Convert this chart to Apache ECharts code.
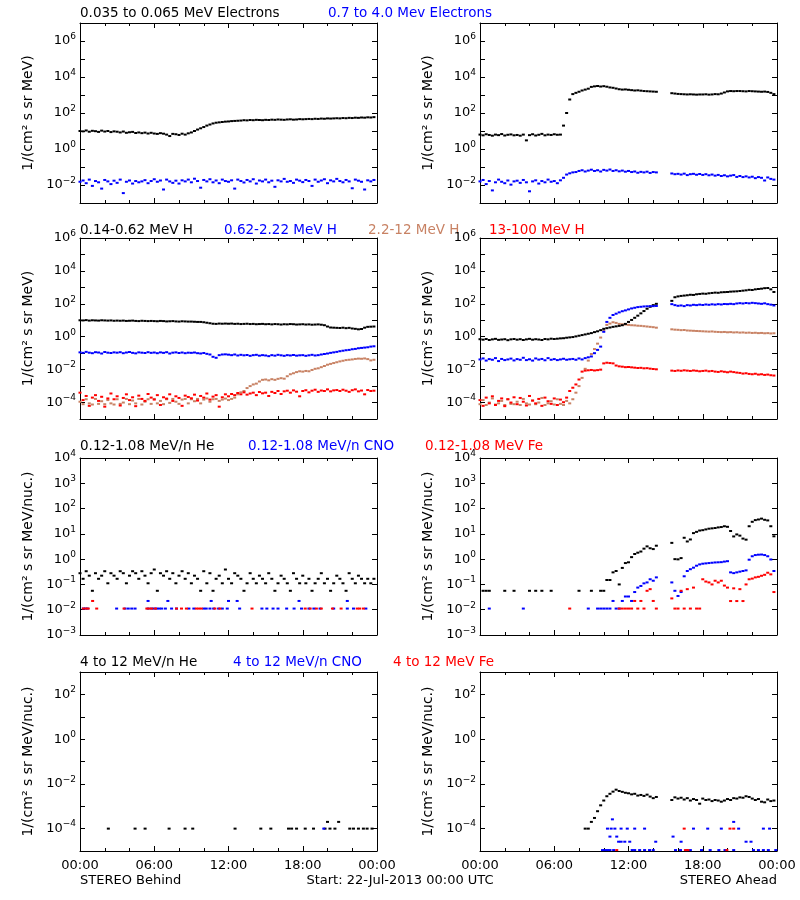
<!DOCTYPE html>
<html><head><meta charset="utf-8">
<script src="https://cdn.jsdelivr.net/npm/echarts/dist/echarts.min.js"></script>
<style>html,body{margin:0;padding:0;background:#fff}#c{width:800px;height:900px}</style>
</head><body><div id="c"></div>
<script>
// ---------------- DATA (15-minute samples from 00:00, log10 values unless noted) ----------------
const STEP_HOURS = 0.25;
const xTickHours = [0, 6, 12, 18, 24];
const xTickLabels = ['00:00', '06:00', '12:00', '18:00', '00:00'];

// Row 1: electrons
const behindElecLoLog = [
 1.00,0.98,1.03,0.96,1.01,0.99,0.95,1.02,0.97,1.00,0.94,0.98,
 0.96,0.92,0.97,0.90,0.93,0.95,0.89,0.92,0.88,0.91,0.86,0.90,
 0.86,0.84,0.88,0.85,0.80,0.72,0.84,0.82,0.78,0.85,0.80,0.87,
 0.92,1.00,1.08,1.15,1.22,1.30,1.36,1.42,1.46,1.48,1.50,1.52,
 1.53,1.55,1.56,1.57,1.58,1.60,1.59,1.61,1.60,1.62,1.61,1.60,
 1.62,1.61,1.63,1.62,1.64,1.63,1.62,1.64,1.65,1.63,1.64,1.66,
 1.65,1.66,1.67,1.66,1.68,1.67,1.69,1.68,1.70,1.69,1.70,1.71,
 1.70,1.72,1.71,1.73,1.72,1.74,1.73,1.75,1.74,1.76,1.75,1.77];
const behindElecHiLog = [
 -1.82,-1.75,-1.90,-1.70,-2.05,-1.78,-1.85,-2.20,-1.72,-1.80,-1.95,-1.76,
 -1.88,-1.70,-2.45,-1.82,-1.75,-1.92,-1.78,-1.85,-1.80,-1.73,-1.90,-1.78,
 -1.68,-1.82,-1.75,-2.25,-1.70,-1.80,-1.88,-1.76,-1.92,-1.74,-1.80,-1.70,
 -1.85,-1.65,-1.78,-2.15,-1.72,-1.80,-1.68,-1.85,-1.75,-1.90,-1.70,-1.78,
 -1.82,-1.74,-2.20,-1.70,-1.78,-1.86,-1.72,-1.80,-1.68,-1.92,-1.75,-1.80,
 -1.70,-1.85,-1.76,-2.10,-1.74,-1.80,-1.66,-1.82,-1.78,-1.88,-1.70,-1.76,
 -1.84,-1.72,-1.78,-2.05,-1.70,-1.82,-1.75,-1.68,-1.90,-1.74,-1.80,-1.66,
 -1.78,-1.85,-1.72,-1.80,-2.18,-1.70,-1.76,-1.82,-2.25,-1.74,-1.80,-1.72];
const aheadElecLoLog = [
 0.80,0.76,0.82,0.78,0.74,0.80,0.77,0.83,0.75,0.79,0.81,0.76,
 0.78,0.74,0.80,0.48,0.77,0.82,0.75,0.79,0.84,0.76,0.80,0.78,
 0.82,0.79,0.80,1.30,2.00,2.75,3.05,3.12,3.18,3.25,3.30,3.35,
 3.45,3.48,3.50,3.47,3.49,3.46,3.42,3.40,3.36,3.32,3.30,3.31,
 3.29,3.27,3.25,3.26,3.24,3.22,3.21,3.20,3.19,3.18,null,null,
 null,null,3.10,3.08,3.06,3.05,3.04,3.03,3.04,3.03,3.02,3.03,
 3.03,3.04,3.02,3.03,3.05,3.04,3.08,3.14,3.20,3.22,3.21,3.22,
 3.22,3.21,3.20,3.22,3.21,3.20,3.19,3.18,3.19,3.17,3.12,3.05];
const aheadElecHiLog = [
 -1.80,-1.72,-1.95,-1.78,-2.30,-1.85,-1.70,-1.82,-1.90,-1.75,-1.98,-1.80,
 -1.76,-1.88,-1.72,-1.85,-2.35,-1.80,-1.74,-1.92,-1.78,-1.85,-1.70,-1.82,
 -1.78,-1.90,-1.74,-1.60,-1.42,-1.35,-1.30,-1.28,-1.22,-1.18,-1.25,-1.20,
 -1.15,-1.22,-1.18,-1.25,-1.16,-1.20,-1.14,-1.22,-1.18,-1.24,-1.20,-1.26,
 -1.22,-1.28,-1.25,-1.32,-1.27,-1.30,-1.26,-1.33,-1.28,-1.30,null,null,
 null,null,-1.36,-1.40,-1.38,-1.42,-1.37,-1.45,-1.40,-1.38,-1.43,-1.39,
 -1.44,-1.40,-1.46,-1.42,-1.48,-1.44,-1.50,-1.46,-1.52,-1.48,-1.45,-1.55,
 -1.50,-1.56,-1.52,-1.58,-1.54,-1.62,-1.56,-1.60,-1.75,-1.58,-1.66,-1.70];

// Row 2: protons
const behindH1Log = [
 1.00,0.99,1.01,0.98,1.00,0.99,0.98,1.00,0.99,0.98,0.99,0.97,
 0.98,0.97,0.98,0.96,0.97,0.98,0.96,0.95,0.97,0.96,0.95,0.96,
 0.95,0.94,0.96,0.95,0.93,0.94,0.95,0.93,0.92,0.94,0.93,0.92,
 0.92,0.91,0.90,0.90,0.88,0.85,0.82,0.79,0.78,0.80,0.79,0.80,
 0.79,0.80,0.78,0.79,0.77,0.78,0.79,0.77,0.78,0.76,0.77,0.78,
 0.76,0.77,0.75,0.77,0.76,0.74,0.76,0.75,0.77,0.76,0.74,0.75,
 0.76,0.74,0.75,0.73,0.74,0.75,0.73,0.70,0.62,0.56,0.55,0.54,
 0.53,0.55,0.52,0.54,0.50,0.48,0.45,0.47,0.55,0.60,0.61,0.62];
const behindH2Log = [
 -0.95,-0.98,-0.92,-0.97,-1.00,-0.94,-0.96,-1.02,-0.93,-0.97,-0.99,-0.95,
 -0.97,-0.94,-1.00,-0.96,-0.93,-0.98,-1.01,-0.95,-0.97,-0.99,-0.94,-0.98,
 -0.96,-1.00,-0.95,-0.98,-0.94,-1.02,-0.97,-0.95,-0.99,-0.96,-1.00,-0.97,
 -0.98,-0.96,-1.00,-1.02,-0.99,-1.04,-1.08,-1.22,-1.28,-1.12,-1.08,-1.07,
 -1.09,-1.12,-1.08,-1.14,-1.10,-1.13,-1.11,-1.16,-1.12,-1.10,-1.15,-1.12,
 -1.14,-1.18,-1.12,-1.15,-1.10,-1.13,-1.16,-1.12,-1.14,-1.11,-1.15,-1.13,
 -1.12,-1.16,-1.13,-1.10,-1.14,-1.12,-1.08,-1.05,-1.02,-0.98,-0.95,-0.92,
 -0.88,-0.85,-0.82,-0.80,-0.76,-0.74,-0.70,-0.68,-0.66,-0.64,-0.60,-0.58];
const behindH3Log = [
 -3.95,-4.10,-3.80,-4.05,-4.12,-3.78,-4.08,-3.92,-4.10,-3.85,-4.05,-4.12,
 -3.80,-4.08,-4.00,-3.78,-4.10,-3.88,-4.05,-3.78,-4.12,-3.95,-3.80,-4.08,
 -3.78,-4.05,-3.90,-4.10,-3.80,-4.02,-3.78,-3.95,-4.08,-3.82,-3.78,-4.05,
 -3.80,-3.92,-3.78,-4.05,-3.82,-3.75,-3.95,-3.80,-3.78,-3.90,-3.82,-3.76,
 -3.85,-3.78,-3.70,-3.50,-3.38,-3.30,-3.12,-3.00,-2.90,-2.85,-2.72,-2.62,
 -2.60,-2.65,-2.58,-2.62,-2.56,-2.52,-2.55,-2.40,-2.28,-2.22,-2.15,-2.10,
 -2.12,-2.08,-2.10,-2.02,-1.95,-1.92,-1.85,-1.78,-1.70,-1.65,-1.60,-1.55,
 -1.50,-1.46,-1.42,-1.40,-1.38,-1.35,-1.33,-1.34,-1.32,-1.36,-1.44,-1.40];
const behindH4Log = [
 -3.40,-3.85,-3.60,-4.20,-3.70,-3.55,-3.90,-3.65,-4.25,-3.75,-3.45,-3.80,
 -3.62,-4.18,-3.72,-3.50,-3.85,-3.68,-4.22,-3.58,-3.78,-3.90,-3.48,-3.70,
 -3.82,-3.55,-4.15,-3.68,-3.76,-3.50,-3.90,-3.62,-3.72,-4.20,-3.58,-3.66,
 -3.74,-3.52,-3.88,-3.60,-3.70,-3.45,-3.82,-3.64,-3.55,-4.25,-3.68,-3.50,
 -3.62,-3.48,-3.55,-3.42,-3.50,-3.38,-3.52,-3.45,-3.40,-3.55,-3.36,-3.44,
 -3.40,-3.60,-3.35,-3.42,-3.30,-3.48,-3.32,-3.28,-3.40,-3.26,-3.34,-3.62,
 -3.30,-3.25,-3.38,-3.28,-3.22,-3.35,-3.27,-3.30,-3.20,-3.32,-3.26,-3.24,
 -3.30,-3.22,-3.28,-3.35,-3.25,-3.20,-3.32,-3.27,-3.50,-3.24,-3.30,-3.28];
const aheadH1Log = [
 -0.15,-0.18,-0.14,-0.20,-0.16,-0.13,-0.19,-0.17,-0.15,-0.21,-0.16,-0.14,
 -0.18,-0.15,-0.20,-0.16,-0.13,-0.18,-0.15,-0.17,-0.20,-0.14,-0.16,-0.12,
 -0.14,-0.12,-0.10,-0.09,-0.06,-0.04,-0.02,0.02,0.06,0.10,0.14,0.18,
 0.22,0.28,0.33,0.40,0.48,0.52,0.56,0.60,0.63,0.66,0.70,0.78,
 0.90,1.02,1.15,1.28,1.42,1.56,1.70,1.82,1.92,2.00,null,null,
 null,null,2.18,2.40,2.45,2.48,2.50,2.52,2.55,2.54,2.58,2.60,
 2.62,2.61,2.64,2.66,2.68,2.67,2.70,2.71,2.72,2.74,2.75,2.76,
 2.78,2.80,2.82,2.85,2.84,2.88,2.90,2.92,2.95,2.96,2.88,2.72];
const aheadH2Log = [
 -1.38,-1.32,-1.45,-1.36,-1.40,-1.30,-1.48,-1.35,-1.42,-1.38,-1.33,-1.44,
 -1.36,-1.40,-1.28,-1.42,-1.37,-1.45,-1.32,-1.39,-1.35,-1.43,-1.30,-1.40,
 -1.36,-1.42,-1.38,-1.34,-1.40,-1.37,-1.35,-1.40,-1.32,-1.38,-1.30,-1.25,
 -1.20,-1.00,-0.80,-0.60,0.30,0.90,1.15,1.32,1.40,1.48,1.55,1.60,
 1.66,1.72,1.76,1.80,1.82,1.84,1.85,1.86,1.86,1.87,null,null,
 null,null,1.98,1.92,1.88,1.90,1.86,1.92,1.90,1.94,1.92,1.95,
 1.93,1.96,1.94,1.97,1.95,1.98,1.96,1.99,1.98,2.00,1.98,2.02,
 2.04,2.02,2.05,2.03,2.06,2.04,2.02,2.00,2.03,1.98,1.95,1.90];
const aheadH3Log = [
 -4.10,-3.85,-4.15,-4.00,-3.75,-4.12,-4.05,-3.90,-4.15,-3.80,-4.08,-4.10,
 -3.95,-4.15,-3.78,-4.05,-4.12,-3.88,-4.10,-4.00,-3.72,-4.15,-4.05,-3.92,
 -4.12,-3.80,-4.08,-4.15,-3.90,-4.05,-3.80,-3.40,-3.00,-2.50,-1.95,-1.45,
 -1.05,-0.75,-0.42,-0.05,0.38,0.72,0.80,0.88,0.84,0.78,0.76,0.74,
 0.72,0.70,0.69,0.67,0.66,0.64,0.62,0.60,0.58,0.55,null,null,
 null,null,0.45,0.43,0.42,0.40,0.41,0.38,0.37,0.36,0.35,0.34,
 0.33,0.32,0.31,0.32,0.30,0.29,0.28,0.29,0.27,0.28,0.26,0.27,
 0.25,0.26,0.24,0.25,0.23,0.24,0.22,0.23,0.21,0.22,0.20,0.21];
const aheadH4Log = [
 -3.85,-4.20,-3.70,-4.05,-3.62,-4.15,-3.90,-3.75,-4.22,-3.80,-4.00,-3.68,
 -4.10,-3.72,-3.95,-4.18,-3.60,-3.88,-4.05,-3.78,-4.20,-3.70,-3.92,-4.08,
 -3.75,-4.15,-3.82,-3.98,-3.70,-3.30,-3.10,-2.90,-2.60,-2.12,-2.06,-2.04,
 -2.02,-2.05,-2.03,-2.00,-1.62,-1.58,-1.60,-1.62,-1.75,-1.80,-1.82,-1.85,
 -1.84,-1.86,-1.88,-1.90,-1.89,-1.92,-1.91,-1.94,-1.96,-1.98,null,null,
 null,null,-2.06,-2.08,-2.05,-2.07,-2.04,-2.06,-2.08,-2.05,-2.07,-2.10,
 -2.08,-2.06,-2.10,-2.08,-2.12,-2.14,-2.10,-2.13,-2.16,-2.12,-2.15,-2.18,
 -2.20,-2.24,-2.22,-2.26,-2.28,-2.25,-2.30,-2.28,-2.32,-2.30,-2.34,-2.36];

// Row 3: 0.12-1.08 MeV/n heavy ions (linear values, 15-minute samples)
const behindHeLoVals = [
 0.278,0.167,0.333,0.222,0.056,0.278,0.167,0.222,0.333,0.111,0.278,0.222,
 0.167,0.333,0.278,0.111,0.222,0.333,0.278,0.167,0.333,0.222,0.111,0.278,
 0.389,0.056,0.278,0.222,0.333,0.167,0.278,0.111,0.222,0.333,0.167,0.278,
 0.111,0.222,0.167,0.056,0.333,0.111,0.278,0.056,0.167,0.222,0.111,0.389,
 0.167,0.111,0.278,0.222,0.167,0.056,0.111,0.278,0.167,0.111,0.222,0.167,
 0.111,0.278,0.167,0.056,0.111,0.222,0.167,0.111,0.056,0.278,0.167,0.111,
 0.222,0.111,0.167,0.056,0.111,0.167,0.278,0.111,0.167,0.056,0.111,0.222,
 0.167,0.111,0.056,0.278,0.167,0.111,0.222,0.167,0.111,0.167,0.111,0.167];
const behindCnoLoPts = [
 [0.27,0.0111],[0.43,0.0111],[0.6,0.0111],[2.96,0.0111],[3.64,0.0111],[3.9,0.0111],[4.18,0.0111],[4.45,0.0111],
 [5.5,0.0111],[5.8,0.0111],[6.0,0.0111],[6.2,0.0111],[6.4,0.0111],[6.6,0.0111],[6.9,0.0111],[7.4,0.0111],
 [7.8,0.0111],[8.8,0.0111],[9.2,0.0111],[10.0,0.0111],[10.2,0.0111],[10.5,0.0111],[10.8,0.0111],[11.2,0.0111],
 [11.5,0.0111],[11.9,0.0111],[12.9,0.0111],[14.7,0.0111],[15.1,0.0111],[15.6,0.0111],[16.0,0.0111],[16.7,0.0111],
 [17.3,0.0111],[17.9,0.0111],[18.5,0.0111],[18.9,0.0111],[19.4,0.0111],[20.5,0.0111],[21.6,0.0111],[22.1,0.0111],
 [23.1,0.0111],[5.5,0.0222],[7.1,0.0222],[10.6,0.0222],[12.0,0.0222],[12.7,0.0222],[17.7,0.0222],[21.6,0.0222]];
const behindFeLoPts = [
 [0.27,0.0111],[0.49,0.0111],[0.67,0.0111],[1.02,0.0222],[1.35,0.0111],[3.56,0.0111],[5.4,0.0111],[5.6,0.0111],
 [5.8,0.0111],[6.1,0.0111],[7.8,0.0111],[8.2,0.0111],[8.6,0.0111],[9.4,0.0111],[9.6,0.0111],[9.8,0.0111],
 [10.9,0.0111],[11.3,0.0111],[13.9,0.0111],[18.2,0.0111],[18.6,0.0111],[19.1,0.0111],[19.5,0.0111],[20.4,0.0111],
 [21.1,0.0111],[22.4,0.0111],[22.6,0.0111],[22.9,0.0111]];
const aheadHeLoVals = [
 null,0.056,0.056,0.056,null,null,null,null,0.056,null,null,0.056,
 null,null,null,null,0.056,null,0.056,null,0.056,null,null,0.056,
 null,null,null,null,null,null,null,null,0.056,null,null,null,
 0.056,null,null,0.056,0.056,0.15,0.15,0.30,0.34,0.10,0.45,0.70,
 0.75,1.2,1.6,1.8,2.0,2.6,3.2,2.7,2.5,3.4,null,null,
 null,null,4.4,1.0,0.98,1.1,7.0,5.0,6.0,10.7,12,13.5,
 14,15,16,16.5,17,18,18.6,20,19,13,7.9,9.5,
 8.5,6.5,5.9,20,30,35,37,40,36,34,20,8.0];
const aheadCnoLoVals = [
 null,null,null,0.0111,null,null,null,null,null,null,null,null,
 null,null,0.0111,null,null,null,null,null,null,null,null,null,
 null,null,null,null,null,null,null,null,null,null,null,0.0111,
 null,null,0.0111,0.0111,0.0111,0.0111,0.0111,0.0222,0.0111,0.0111,0.0222,0.0333,
 0.0333,0.0222,0.05,0.075,0.087,0.11,0.12,0.16,0.14,0.19,null,null,
 null,null,0.12,0.056,0.035,0.05,0.21,0.34,0.40,0.46,0.55,0.62,
 0.66,0.68,0.70,0.72,0.74,0.75,0.76,0.80,0.83,0.30,0.28,0.30,
 0.32,0.34,0.36,0.95,1.3,1.45,1.5,1.52,1.45,1.3,0.97,0.34];
const aheadFeLoVals = [
 null,null,null,null,null,null,null,null,null,null,null,null,
 null,null,null,null,null,null,null,null,null,null,null,null,
 null,null,null,null,null,0.0111,null,null,null,null,null,null,
 null,null,null,null,null,null,null,null,null,0.0111,0.0111,0.0111,
 0.0111,0.0111,0.0222,0.0111,0.0222,0.0111,0.056,0.065,0.0222,0.0111,null,null,
 null,null,0.028,0.0111,0.0111,0.056,0.0111,0.065,0.0111,0.075,0.0111,0.0111,
 0.16,0.13,0.12,0.10,0.14,0.12,0.14,0.09,0.075,0.022,0.07,0.022,
 0.065,0.022,0.10,0.16,0.17,0.19,0.20,0.22,0.24,0.29,0.25,0.05];

// Row 4: 4-12 MeV/n heavy ions
const behindHeHiPts = [
 [2.29,1e-4],[4.45,1e-4],[5.26,1e-4],[7.2,1e-4],[8.49,1e-4],[9.11,1e-4],[12.53,1e-4],[14.61,1e-4],
 [15.42,1e-4],[16.85,1e-4],[17.1,1e-4],[17.5,1e-4],[18.2,1e-4],[18.87,1e-4],[19.8,1e-4],[20.0,2e-4],
 [20.2,1e-4],[20.6,1e-4],[20.9,2e-4],[21.8,1e-4],[22.1,1e-4],[22.5,1e-4],[22.9,1e-4],[23.2,1e-4],[23.6,1e-4]];
const behindCnoHiPts = [[19.7,1e-4]];
const behindFeHiPts = [];
const aheadHeHiVals = [
 null,null,null,null,null,null,null,null,null,null,null,null,
 null,null,null,null,null,null,null,null,null,null,null,null,
 null,null,null,null,null,null,null,null,null,null,1e-4,1e-4,
 2e-4,3e-4,6e-4,1.1e-3,1.8e-3,2.8e-3,3.6e-3,4.5e-3,5.5e-3,4.8e-3,4.4e-3,4.0e-3,
 3.8e-3,3.4e-3,3.6e-3,3.0e-3,3.2e-3,2.9e-3,3.3e-3,2.7e-3,2.3e-3,2.6e-3,null,null,
 null,null,1.9e-3,2.5e-3,2.2e-3,2.4e-3,2.0e-3,2.3e-3,1.8e-3,2.1e-3,1.9e-3,1.3e-3,
 2.2e-3,1.9e-3,2.0e-3,1.7e-3,1.9e-3,1.8e-3,1.6e-3,1.8e-3,2.1e-3,1.9e-3,2.3e-3,2.2e-3,
 2.5e-3,2.4e-3,2.8e-3,2.6e-3,2.2e-3,1.9e-3,2.1e-3,1.6e-3,1.5e-3,2.0e-3,1.7e-3,1.8e-3];
const aheadCnoHiPts = [
 [10.3,1e-4],[10.6,1e-4],[10.9,1e-4],[11.4,1e-4],[11.9,1e-4],[12.5,1e-4],[13.3,1e-4],[17.25,1e-4],
 [18.4,1e-4],[19.5,1e-4],[20.9,1e-4],[22.9,1e-4],[23.4,1e-4],[10.7,2.6e-4],[20.5,2e-4],
 [10.5,4.4e-5],[11.05,4.4e-5],[15.6,4.4e-5],
 [11.2,2.6e-5],[11.4,2.6e-5],[11.7,2.6e-5],[12.1,2.6e-5],[14.2,2.6e-5],[16.25,2.6e-5],[21.5,2.6e-5],[21.9,2.6e-5],
 [9.9,1.1e-5],[10.1,1.1e-5],[10.3,1.1e-5],[10.5,1.1e-5],[10.8,1.1e-5],[12.3,1.1e-5],[12.5,1.1e-5],[12.9,1.1e-5],
 [13.3,1.1e-5],[13.7,1.1e-5],[14.0,1.1e-5],[15.8,1.1e-5],[16.2,1.1e-5],[16.7,1.1e-5],[17.0,1.1e-5],[17.9,1.1e-5],
 [18.6,1.1e-5],[19.3,1.1e-5],[19.8,1.1e-5],[20.5,1.1e-5],[22.1,1.1e-5],[22.5,1.1e-5],[22.9,1.1e-5],[23.3,1.1e-5],[23.9,1.1e-5]];
const aheadFeHiPts = [
 [16.5,1e-4],[20.2,1e-4],[20.5,1e-4],[11.05,1.1e-5],[16.6,1.1e-5],[16.8,1.1e-5],[19.95,1.1e-5]];

// ---------------- BUILD ----------------
function fromLog(arr){ const o=[]; arr.forEach((v,i)=>{ if(v!==null) o.push([i*STEP_HOURS, Math.pow(10,v)]); }); return o; }
function fromLin(arr){ const o=[]; arr.forEach((v,i)=>{ if(v!==null) o.push([i*STEP_HOURS, v]); }); return o; }

const COL = {k:'#000000', b:'#0000ff', r:'#ff0000', o:'rgb(200,130,100)'};
const FONT = 'DejaVu Sans';
const NAME1 = '1/(cm² s sr MeV)';
const NAME2 = '1/(cm² s sr MeV/nuc.)';

const rows = [
  {top:23, height:180, min:-3, max:7, every:2, name:NAME1},
  {top:238, height:181, min:-5, max:6, every:2, name:NAME1},
  {top:458, height:177, min:-3, max:4, every:1, name:NAME2},
  {top:672, height:179, min:-5, max:3, every:2, name:NAME2}
];
const cols = [80, 480];
const panelSeries = [
  [[fromLog(behindElecLoLog),'k'],[fromLog(behindElecHiLog),'b']],
  [[fromLog(aheadElecLoLog),'k'],[fromLog(aheadElecHiLog),'b']],
  [[fromLog(behindH3Log),'o'],[fromLog(behindH4Log),'r'],[fromLog(behindH1Log),'k'],[fromLog(behindH2Log),'b']],
  [[fromLog(aheadH3Log),'o'],[fromLog(aheadH4Log),'r'],[fromLog(aheadH1Log),'k'],[fromLog(aheadH2Log),'b']],
  [[fromLin(behindHeLoVals),'k'],[behindCnoLoPts,'b'],[behindFeLoPts,'r']],
  [[fromLin(aheadHeLoVals),'k'],[fromLin(aheadCnoLoVals),'b'],[fromLin(aheadFeLoVals),'r']],
  [[behindHeHiPts,'k'],[behindCnoHiPts,'b'],[behindFeHiPts,'r']],
  [[fromLin(aheadHeHiVals),'k'],[aheadCnoHiPts,'b'],[aheadFeHiPts,'r']]
];

const grid=[], xAxis=[], yAxis=[], series=[];
let p=0;
rows.forEach((row, ri)=>{
  cols.forEach((left, ci)=>{
    grid.push({left:left, top:row.top, width:297, height:row.height, show:false});
    const lastRow = ri===rows.length-1;
    const xBase = {type:'value', gridIndex:p, min:0, max:24, interval:6,
      axisLine:{show:true, onZero:false, lineStyle:{color:'#000', width:1}},
      axisTick:{show:true, inside:true, length:5, lineStyle:{color:'#000'}},
      minorTick:{show:true, splitNumber:3, length:3, lineStyle:{color:'#000'}},
      splitLine:{show:false}, minorSplitLine:{show:false}};
    xAxis.push(Object.assign({}, xBase, {position:'bottom',
      axisLabel:{show:lastRow, margin:8, color:'#000', fontFamily:FONT, fontSize:13,
        showMinLabel:true, showMaxLabel:true,
        formatter:(v)=>{ const k=xTickHours.indexOf(Math.round(v)); return k>=0?xTickLabels[k]:''; }}}));
    xAxis.push(Object.assign({}, xBase, {position:'top', axisLabel:{show:false}}));
    const every=row.every;
    const yBase = {type:'log', logBase:10, gridIndex:p, min:Math.pow(10,row.min), max:Math.pow(10,row.max), interval:1,
      axisLine:{show:true, onZero:false, lineStyle:{color:'#000', width:1}},
      axisTick:{show:true, inside:true, length:5, lineStyle:{color:'#000'}},
      minorTick:{show:false}, splitLine:{show:false}, minorSplitLine:{show:false}};
    yAxis.push(Object.assign({}, yBase, {position:'left',
      name:row.name, nameLocation:'middle', nameGap:45, nameRotate:90,
      nameTextStyle:{color:'#000', fontFamily:FONT, fontSize:14},
      axisLabel:{show:true, margin:4, color:'#000', fontFamily:FONT,
        showMinLabel:true, showMaxLabel:true,
        formatter:(v)=>{ const e=Math.round(Math.log10(v)); if(((e%every)+every)%every!==0) return '';
          return '{b|10}{e|'+(e<0?'\u2212'+(-e):e)+'}'; },
        rich:{ b:{fontSize:13, fontFamily:FONT, color:'#000', lineHeight:18},
               e:{fontSize:9, fontFamily:FONT, color:'#000', lineHeight:9, verticalAlign:'top'} }}}));
    yAxis.push(Object.assign({}, yBase, {position:'right', axisLabel:{show:false}}));
    panelSeries[p].forEach(([data,c])=>{
      series.push({type:'scatter', xAxisIndex:2*p, yAxisIndex:2*p, data:data, symbol:'rect', symbolSize:[3,2],
        itemStyle:{color:COL[c], opacity:1}, silent:true, animation:false});
    });
    p++;
  });
});

const titles = [
 ['0.035 to 0.065 MeV Electrons',80,13,'k'],['0.7 to 4.0 Mev Electrons',328,13,'b'],
 ['0.14-0.62 MeV H',80,230,'k'],['0.62-2.22 MeV H',224,230,'b'],['2.2-12 MeV H',368,230,'o'],['13-100 MeV H',489,230,'r'],
 ['0.12-1.08 MeV/n He',80,446,'k'],['0.12-1.08 MeV/n CNO',248,446,'b'],['0.12-1.08 MeV Fe',425,446,'r'],
 ['4 to 12 MeV/n He',80,662,'k'],['4 to 12 MeV/n CNO',233,662,'b'],['4 to 12 MeV Fe',393,662,'r']
];
const TFONT = '13.5px "'+FONT+'"';
const graphic = titles.map(([t,x,y,c])=>({type:'text', style:{text:t, x:x, y:y, fill:COL[c],
  font:TFONT, align:'left', verticalAlign:'middle'}}));
graphic.push({type:'text', style:{text:'STEREO Behind', x:80, y:881, fill:'#000', font:'13px "'+FONT+'"', align:'left', verticalAlign:'middle'}});
graphic.push({type:'text', style:{text:'Start: 22-Jul-2013 00:00 UTC', x:400, y:881, fill:'#000', font:'13px "'+FONT+'"', align:'center', verticalAlign:'middle'}});
graphic.push({type:'text', style:{text:'STEREO Ahead', x:777, y:881, fill:'#000', font:'13px "'+FONT+'"', align:'right', verticalAlign:'middle'}});

const chart = echarts.init(document.getElementById('c'), null, {renderer:'canvas'});
chart.setOption({animation:false, backgroundColor:'#fff', textStyle:{fontFamily:FONT},
  grid, xAxis, yAxis, series, graphic});
</script></body></html>
